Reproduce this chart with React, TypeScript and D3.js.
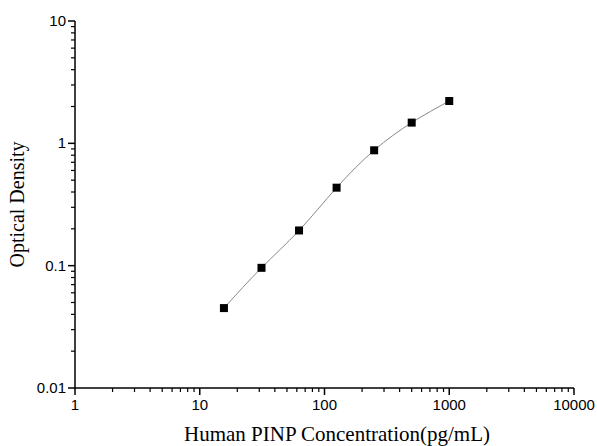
import React from "react";
import * as d3 from "d3";

const concentrations = [15.625, 31.25, 62.5, 125, 250, 500, 1000];
const opticalDensity = [0.045, 0.096, 0.194, 0.434, 0.877, 1.477, 2.218];
const xTickValues = [1, 10, 100, 1000, 10000];
const xTickLabels = ["1", "10", "100", "1000", "10000"];
const yTickValues = [0.01, 0.1, 1, 10];
const yTickLabels = ["0.01", "0.1", "1", "10"];

const W = 597;
const H = 446;
const left = 75;
const right = 574;
const top = 21;
const bottom = 388;

export default function App() {
  const x = d3.scaleLog().domain([1, 10000]).range([left, right]);
  const y = d3.scaleLog().domain([0.01, 10]).range([bottom, top]);

  const xMinor: number[] = [];
  for (let d = 1; d < 10000; d *= 10) for (let k = 2; k <= 9; k++) xMinor.push(d * k);
  const yMinor: number[] = [];
  for (let d = 0.01; d < 9.99; d *= 10) for (let k = 2; k <= 9; k++) yMinor.push(d * k);

  const pts = concentrations.map((c, i) => [x(c), y(opticalDensity[i])] as [number, number]);
  const line = d3.line().curve(d3.curveNatural)(pts) || "";

  const tickFont = "'Liberation Sans', Arial, sans-serif";
  const titleFont = "'Liberation Serif', 'Times New Roman', serif";

  return (
    <svg width={W} height={H} style={{ position: "absolute", left: 0, top: 0, background: "#fff" }}>
      <rect x={0} y={0} width={W} height={H} fill="#fff" />
      <line x1={left} x2={right} y1={bottom} y2={bottom} stroke="#000" strokeWidth={1.5} />
      <line x1={left} x2={left} y1={top} y2={bottom} stroke="#000" strokeWidth={1.5} />
      {xTickValues.map((v, i) => (
        <g key={"xt" + i}>
          <line x1={x(v)} x2={x(v)} y1={bottom} y2={bottom + 7} stroke="#000" strokeWidth={1.5} />
          <text x={x(v)} y={bottom + 22} textAnchor="middle" fontFamily={tickFont} fontSize={15} fill="#000">
            {xTickLabels[i]}
          </text>
        </g>
      ))}
      {xMinor.map((v, i) => (
        <line key={"xm" + i} x1={x(v)} x2={x(v)} y1={bottom} y2={bottom + 4} stroke="#000" strokeWidth={1.2} />
      ))}
      {yTickValues.map((v, i) => (
        <g key={"yt" + i}>
          <line x1={left - 7} x2={left} y1={y(v)} y2={y(v)} stroke="#000" strokeWidth={1.5} />
          <text x={left - 9} y={y(v) + 5} textAnchor="end" fontFamily={tickFont} fontSize={15} fill="#000">
            {yTickLabels[i]}
          </text>
        </g>
      ))}
      {yMinor.map((v, i) => (
        <line key={"ym" + i} x1={left - 4} x2={left} y1={y(v)} y2={y(v)} stroke="#000" strokeWidth={1.2} />
      ))}
      <path d={line} fill="none" stroke="#888" strokeWidth={1} />
      {pts.map((p, i) => (
        <rect key={"p" + i} x={p[0] - 4} y={p[1] - 4} width={8} height={8} fill="#000" />
      ))}
      <text x={337} y={441} textAnchor="middle" fontFamily={titleFont} fontSize={21} fill="#000">
        Human PINP Concentration(pg/mL)
      </text>
      <text
        transform={`translate(24, ${(top + bottom) / 2}) rotate(-90)`}
        textAnchor="middle"
        fontFamily={titleFont}
        fontSize={20}
        fill="#000"
      >
        Optical Density
      </text>
    </svg>
  );
}
